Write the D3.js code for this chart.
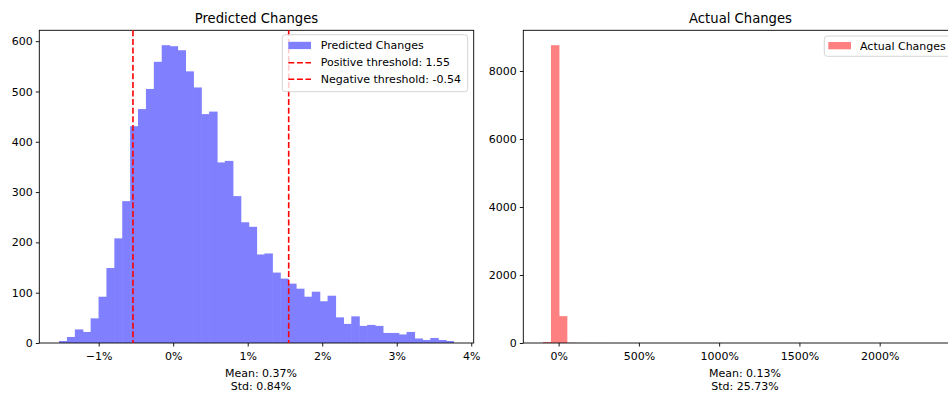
<!DOCTYPE html>
<html>
<head>
<meta charset="utf-8">
<script src="https://cdn.jsdelivr.net/npm/d3@7"></script>
<style>
  body { margin: 0; background: #fff; }
  svg { display: block; font-family: "DejaVu Sans", sans-serif; }
</style>
</head>
<body>
<svg id="chart" width="948" height="396"></svg>
<script>
// ---- Data ----
const predTitle = "Predicted Changes";
const actualTitle = "Actual Changes";
const predRange = [-1.532, 3.768];          // histogram range (%)
const predCounts = [4, 12, 27, 22, 49, 92, 149, 208, 282, 431,
                    465, 505, 559, 592, 590, 582, 540, 508, 455, 460,
                    359, 362, 292, 240, 231, 176, 178, 140, 128, 118,
                    108, 92, 102, 83, 94, 51, 38, 53, 34, 36,
                    34, 20, 20, 17, 22, 9, 6, 10, 6, 4];
const actualRange = [-97, 2363];            // histogram range (%)
const actualCounts = [30, 8760, 790, 8, 3, 2, 1, 1, 0, 0,
                      0, 0, 0, 0, 0, 0, 0, 0, 0, 0,
                      0, 0, 0, 0, 0, 0, 0, 0, 0, 0,
                      0, 0, 0, 0, 0, 0, 0, 0, 0, 0,
                      0, 0, 0, 0, 0, 0, 0, 0, 0, 1];
const posThreshold = 1.55;
const negThreshold = -0.54;
const predXTicks = [-1, 0, 1, 2, 3, 4];
const predYTicks = [0, 100, 200, 300, 400, 500, 600];
const actualXTicks = [0, 500, 1000, 1500, 2000];
const actualYTicks = [0, 2000, 4000, 6000, 8000];
const predStats = ["Mean: 0.37%", "Std: 0.84%"];
const actualStats = ["Mean: 0.13%", "Std: 25.73%"];
const predLegend = ["Predicted Changes", "Positive threshold: 1.55", "Negative threshold: -0.54"];
const actualLegend = ["Actual Changes"];

// ---- Layout ----
const svg = d3.select("#chart");
const plotTop = 30.3, plotBottom = 343;
const panels = [
  { left: 39.3, right: 473.7, range: predRange, counts: predCounts, color: "#8080ff",
    xticks: predXTicks, yticks: predYTicks, title: predTitle, stats: predStats },
  { left: 523.3, right: 957.7, range: actualRange, counts: actualCounts, color: "#ff8080",
    xticks: actualXTicks, yticks: actualYTicks, title: actualTitle, stats: actualStats }
];
const pctFmt = d => (d < 0 ? "\u2212" : "") + Math.abs(d) + "%";

panels.forEach((p, pi) => {
  const n = p.counts.length;
  const span = p.range[1] - p.range[0];
  const x = d3.scaleLinear()
    .domain([p.range[0] - 0.05 * span, p.range[1] + 0.05 * span])
    .range([p.left, p.right]);
  const y = d3.scaleLinear()
    .domain([0, d3.max(p.counts) * 1.05])
    .range([plotBottom, plotTop]);
  const edges = d3.range(n + 1).map(i => p.range[0] + i * span / n);
  p.x = x; p.y = y;

  const g = svg.append("g");
  g.selectAll("rect.bar").data(p.counts).join("rect")
    .attr("class", "bar")
    .attr("x", (d, i) => x(edges[i]))
    .attr("width", (d, i) => x(edges[i + 1]) - x(edges[i]) + (i < n - 1 ? 0.6 : 0))
    .attr("y", d => y(d))
    .attr("height", d => plotBottom - y(d))
    .attr("fill", p.color);

  // axes
  const xa = g.append("g").attr("transform", `translate(0,${plotBottom})`)
    .call(d3.axisBottom(x).tickValues(p.xticks).tickFormat(pctFmt).tickSize(3.5).tickPadding(5.5).tickSizeOuter(0));
  const ya = g.append("g").attr("transform", `translate(${p.left},0)`)
    .call(d3.axisLeft(y).tickValues(p.yticks).tickFormat(d3.format("d")).tickSize(3.5).tickPadding(3).tickSizeOuter(0));
  [xa, ya].forEach(a => {
    a.select(".domain").remove();
    a.selectAll("text").attr("font-size", 11).attr("fill", "#000").attr("font-family", "DejaVu Sans");
    a.selectAll("line").attr("stroke", "#000").attr("stroke-width", 0.9);
  });

  // spines
  g.append("rect").attr("x", p.left).attr("y", plotTop)
    .attr("width", p.right - p.left).attr("height", plotBottom - plotTop)
    .attr("fill", "none").attr("stroke", "#000").attr("stroke-width", 0.9);

  // title
  g.append("text").attr("x", (p.left + p.right) / 2).attr("y", 23)
    .attr("text-anchor", "middle").attr("font-size", 13.2).attr("fill", "#000").text(p.title);

  // stats
  p.stats.forEach((s, i) => {
    g.append("text").attr("x", (p.left + p.right) / 2 + 4.5).attr("y", 377.3 + i * 12.7)
      .attr("text-anchor", "middle").attr("font-size", 11).attr("fill", "#000").text(s);
  });
});

// threshold lines on left panel
const P = panels[0];
[posThreshold, negThreshold].forEach(t => {
  svg.append("line").attr("x1", P.x(t)).attr("x2", P.x(t))
    .attr("y1", plotTop).attr("y2", plotBottom)
    .attr("stroke", "#ff0000").attr("stroke-width", 1.6)
    .attr("stroke-dasharray", "6,2.6");
});

// legend left
const lg = svg.append("g");
lg.append("rect").attr("x", 282.3).attr("y", 34.7).attr("width", 185.4).attr("height", 57)
  .attr("rx", 3).attr("fill", "#fff").attr("fill-opacity", 0.8).attr("stroke", "#d0d0d0").attr("stroke-width", 0.9);
lg.append("rect").attr("x", 288.3).attr("y", 41.8).attr("width", 22.7).attr("height", 7.3).attr("fill", P.color);
[62.7, 79.3].forEach(yy => {
  lg.append("line").attr("x1", 288.3).attr("x2", 311).attr("y1", yy).attr("y2", yy)
    .attr("stroke", "#ff0000").attr("stroke-width", 1.6).attr("stroke-dasharray", "6,2.6");
});
predLegend.forEach((t, i) => {
  lg.append("text").attr("x", 320.7).attr("y", 49.4 + i * 16.9).attr("font-size", 11).attr("fill", "#000").text(t);
});

// legend right
const rg = svg.append("g");
rg.append("rect").attr("x", 824.3).attr("y", 36).attr("width", 140).attr("height", 20.3)
  .attr("rx", 3).attr("fill", "#fff").attr("fill-opacity", 0.8).attr("stroke", "#d0d0d0").attr("stroke-width", 0.9);
rg.append("rect").attr("x", 828.3).attr("y", 42).attr("width", 22.7).attr("height", 7.3).attr("fill", panels[1].color);
actualLegend.forEach(t => {
  rg.append("text").attr("x", 860).attr("y", 50).attr("font-size", 11).attr("fill", "#000").text(t);
});
</script>
</body>
</html>
